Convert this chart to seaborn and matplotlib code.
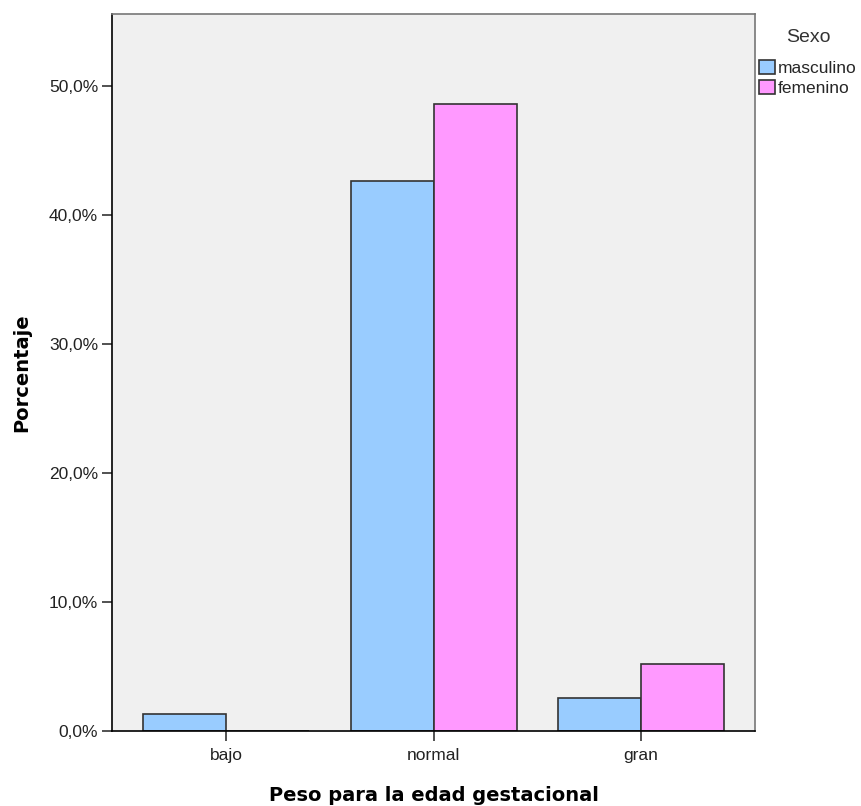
import matplotlib
matplotlib.use("Agg")
import matplotlib.pyplot as plt
import matplotlib.patches as patches
from matplotlib.ticker import FuncFormatter
import numpy as np
import pandas as pd
import seaborn as sns

# data
categorias = ["bajo", "normal", "gran"]
masculino = [1.3, 42.6, 2.55]
femenino = [0.0, 48.6, 5.2]
sexos = ["masculino", "femenino"]
colores = {"masculino": "#99CCFF", "femenino": "#FF99FF"}

df = pd.DataFrame({
    "Peso": categorias * 2,
    "Sexo": [sexos[0]] * 3 + [sexos[1]] * 3,
    "Porcentaje": masculino + femenino,
})

sns.set_style("white")
plt.rcParams["font.family"] = ["Liberation Sans", "DejaVu Sans"]

fig = plt.figure(figsize=(8.62, 8.06), dpi=100)
ax = fig.add_axes([0.130, 0.093, 0.746, 0.890])

sns.barplot(
    data=df, x="Peso", y="Porcentaje", hue="Sexo",
    order=categorias, hue_order=sexos, palette=colores,
    width=0.8, edgecolor="#333333", linewidth=1.2,
    saturation=1, errorbar=None, ax=ax, legend=False,
)

ax.set_facecolor("#F0F0F0")
ax.set_xlim(-0.55, 2.55)
ax.set_ylim(0, 55.6)
ax.set_yticks([0, 10, 20, 30, 40, 50])
ax.yaxis.set_major_formatter(FuncFormatter(lambda v, p: f"{v:.1f}%".replace(".", ",")))

for side in ["left", "bottom"]:
    ax.spines[side].set_color("black")
    ax.spines[side].set_linewidth(1.2)
for side in ["top", "right"]:
    ax.spines[side].set_color("#777777")
    ax.spines[side].set_linewidth(1.2)

ax.tick_params(axis="both", which="major", direction="out", length=7,
               width=1.1, color="#222222", labelsize=12.5, labelcolor="#222222",
               left=True, bottom=True, pad=3)
ax.tick_params(axis="x", pad=5)

ax.set_xlabel("Peso para la edad gestacional", fontsize=14, fontweight="bold",
              family="DejaVu Sans", color="black", labelpad=17)
ax.set_ylabel("Porcentaje", fontsize=14, fontweight="bold",
              family="DejaVu Sans", color="black", labelpad=13)

# legend title and entries placed like the original
fig.text(808 / 862, 1 - 38 / 806, "Sexo", ha="center", va="center",
         fontsize=14, color="#333333")
handles = [patches.Patch(facecolor=colores[s], edgecolor="#333333", linewidth=1.2, label=s)
           for s in sexos]
fig.legend(handles=handles, loc="upper left",
           bbox_to_anchor=(759 / 862, 1 - 60 / 806), frameon=False,
           fontsize=12.5, handlelength=0.9, handleheight=0.9, handletextpad=0.2,
           labelspacing=0.2, borderaxespad=0.0, borderpad=0.0)

fig.savefig("out.png", dpi=100)
